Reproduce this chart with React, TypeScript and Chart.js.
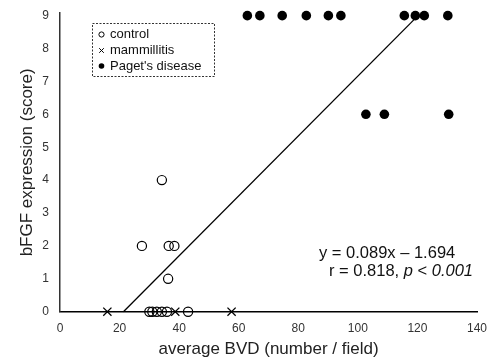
import React, { useEffect, useRef } from 'react';
import { Chart, registerables } from 'chart.js';

Chart.register(...registerables);

// ---- data ----
const controlX = [34.2, 27.5, 36.5, 38.4, 36.3, 30.0, 31.0, 32.5, 34.2, 35.9, 43.0];
const controlY = [4, 2, 2, 2, 1, 0, 0, 0, 0, 0, 0];
const mammX = [15.9, 38.7, 57.6];
const mammY = [0, 0, 0];
const pagetX = [62.9, 67.1, 74.6, 82.7, 90.1, 94.3, 115.6, 119.3, 122.3, 130.2, 102.7, 108.9, 130.5];
const pagetY = [9, 9, 9, 9, 9, 9, 9, 9, 9, 9, 6, 6, 6];
const trendX = [21.3, 120.2];
const trendY = [0, 9];
const xTickValues = [0, 20, 40, 60, 80, 100, 120, 140];
const yTickValues = [0, 1, 2, 3, 4, 5, 6, 7, 8, 9];
const legendLabels = ['control', 'mammillitis', "Paget's disease"];
const xTitle = 'average BVD (number / field)';
const yTitle = 'bFGF expression (score)';
const eqLine1 = 'y = 0.089x \u2013 1.694';

const FONT = '"Liberation Sans", Arial, sans-serif';

const pts = (xs: number[], ys: number[]) => xs.map((x, i) => ({ x, y: ys[i] }));

const overlayPlugin = {
  id: 'overlay',
  afterDraw(chart: any) {
    const ctx: CanvasRenderingContext2D = chart.ctx;
    ctx.save();
    // legend box
    ctx.setLineDash([2, 1.5]);
    ctx.strokeStyle = '#333';
    ctx.lineWidth = 1;
    ctx.strokeRect(92.5, 23.5, 122, 53);
    ctx.setLineDash([]);
    const rows = [34.5, 50.5, 66];
    const mx = 101.5;
    // markers
    ctx.strokeStyle = '#000';
    ctx.fillStyle = '#000';
    ctx.lineWidth = 1;
    ctx.beginPath();
    ctx.arc(mx, rows[0], 2.6, 0, Math.PI * 2);
    ctx.stroke();
    ctx.beginPath();
    ctx.moveTo(mx - 2.3, rows[1] - 2.3);
    ctx.lineTo(mx + 2.3, rows[1] + 2.3);
    ctx.moveTo(mx + 2.3, rows[1] - 2.3);
    ctx.lineTo(mx - 2.3, rows[1] + 2.3);
    ctx.stroke();
    ctx.beginPath();
    ctx.arc(mx, rows[2], 2.8, 0, Math.PI * 2);
    ctx.fill();
    ctx.font = `13px ${FONT}`;
    ctx.textBaseline = 'middle';
    ctx.textAlign = 'left';
    ctx.fillStyle = '#111';
    legendLabels.forEach((t, i) => ctx.fillText(t, 110, rows[i]));

    // equation text
    ctx.font = `16.5px ${FONT}`;
    ctx.fillStyle = '#111';
    ctx.fillText(eqLine1, 319, 253);
    const parts: [string, boolean][] = [
      ['r = 0.818, ', false],
      ['p', true],
      [' < ', false],
      ['0.001', true],
    ];
    let x = 329;
    parts.forEach(([t, it]) => {
      ctx.font = `${it ? 'italic ' : ''}16.5px ${FONT}`;
      ctx.fillText(t, x, 271);
      x += ctx.measureText(t).width;
    });
    ctx.restore();
  },
};

export default function App() {
  const ref = useRef<HTMLCanvasElement>(null);
  useEffect(() => {
    if (!ref.current) return;
    const chart = new Chart(ref.current, {
      type: 'scatter',
      data: {
        datasets: [
          {
            label: 'trend',
            data: pts(trendX, trendY),
            showLine: true,
            borderColor: '#000',
            borderWidth: 1.3,
            pointRadius: 0,
            clip: false as any,
          },
          {
            label: 'control',
            data: pts(controlX, controlY),
            pointStyle: 'circle',
            pointRadius: 4.6,
            backgroundColor: 'rgba(0,0,0,0)',
            borderColor: '#000',
            borderWidth: 1.2,
            clip: false as any,
          },
          {
            label: 'mammillitis',
            data: pts(mammX, mammY),
            pointStyle: 'crossRot',
            pointRadius: 5.8,
            borderColor: '#000',
            borderWidth: 1.3,
            clip: false as any,
          },
          {
            label: "Paget's disease",
            data: pts(pagetX, pagetY),
            pointStyle: 'circle',
            pointRadius: 4.8,
            backgroundColor: '#000',
            borderColor: '#000',
            borderWidth: 0,
            clip: false as any,
          },
        ],
      },
      options: {
        responsive: false,
        animation: false,
        devicePixelRatio: 1,
        layout: { padding: { top: 13, right: 13, left: 0, bottom: 0 } },
        plugins: { legend: { display: false }, tooltip: { enabled: false } },
        scales: {
          x: {
            type: 'linear',
            min: 0,
            max: 140,
            afterFit: (s: any) => {
              s.height = 48.3;
              s.paddingLeft = 0;
              s.paddingRight = 0;
            },
            afterBuildTicks: (s: any) => { s.ticks = xTickValues.map((v) => ({ value: v })); },
            grid: { display: false, drawTicks: false },
            border: { display: true, color: '#000', width: 1.5 },
            ticks: { padding: 10, color: '#333', font: { family: FONT, size: 12 } },
            title: {
              display: true,
              text: xTitle,
              color: '#222',
              font: { family: FONT, size: 17 },
              padding: { top: 0, bottom: 0 },
            },
          },
          y: {
            type: 'linear',
            min: 0,
            max: 9.08,
            afterFit: (s: any) => {
              s.width = 60;
              s.paddingTop = 0;
              s.paddingBottom = 0;
            },
            afterBuildTicks: (s: any) => { s.ticks = yTickValues.map((v) => ({ value: v })); },
            grid: { display: false, drawTicks: false },
            border: { display: true, color: '#333', width: 1.5 },
            ticks: { padding: 11, color: '#333', font: { family: FONT, size: 12 } },
            title: {
              display: true,
              text: yTitle,
              color: '#222',
              font: { family: FONT, size: 17 },
              padding: { top: 17, bottom: 0 },
            },
          },
        },
      },
      plugins: [overlayPlugin],
    } as any);
    return () => chart.destroy();
  }, []);
  return (
    <div style={{ position: 'absolute', left: 0, top: 0, width: 490, height: 360, background: '#fff' }}>
      <canvas ref={ref} width={490} height={360} />
    </div>
  );
}
